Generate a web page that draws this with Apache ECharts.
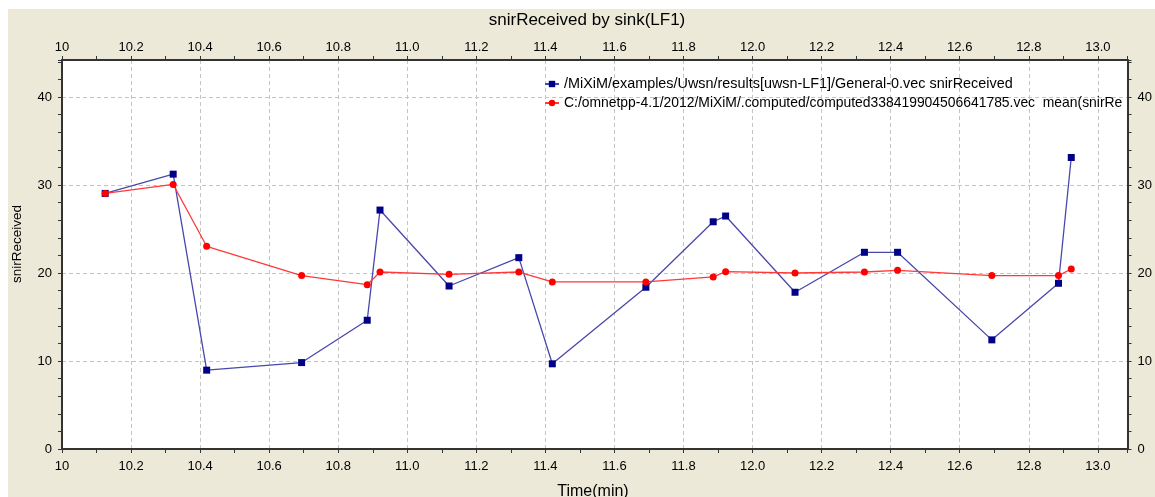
<!DOCTYPE html>
<html><head><meta charset="utf-8">
<script src="https://cdn.jsdelivr.net/npm/echarts@6/dist/echarts.min.js"></script>
<style>html,body{margin:0;padding:0;background:#fff;} #c{position:absolute;left:8px;top:9px;width:1147px;height:488px;}</style>
</head><body><div id="c"></div>
<script>
// Data
const timeMin = [10.125, 10.322, 10.419, 10.694, 10.884, 10.921, 11.121, 11.323, 11.42, 11.691, 11.886, 11.922, 12.123, 12.324, 12.42, 12.693, 12.886, 12.923];
const snirReceived = [29.04, 31.23, 8.96, 9.82, 14.63, 27.15, 18.52, 21.74, 9.68, 18.38, 25.82, 26.47, 17.81, 22.35, 22.35, 12.4, 18.83, 33.12];
const meanSnir = [29.04, 30.06, 23.03, 19.70, 18.67, 20.11, 19.85, 20.11, 18.98, 18.98, 19.55, 20.15, 20.0, 20.11, 20.3, 19.7, 19.7, 20.45];
const seriesNames = [
  '/MiXiM/examples/Uwsn/results[uwsn-LF1]/General-0.vec snirReceived',
  'C:/omnetpp-4.1/2012/MiXiM/.computed/computed338419904506641785.vec  mean(snirRe'
];
const chartTitle = 'snirReceived by sink(LF1)';
const xTitle = 'Time(min)';
const yTitle = 'snirReceived';
const xMin = 10, xMax = 13.086, xStep = 0.2, xMinorStep = 0.1;
const yMin = 0, yMax = 44.2, yStep = 10, yMinorStep = 2;

const FONT = 'Liberation Sans, Arial, sans-serif';
const AX = '#333333';

function pairs(xs, ys) { return xs.map((x, i) => [x, ys[i]]); }
function xLabel(v) {
  if (v > 13.05) return '';
  if (Math.abs(v - 10) < 1e-6) return '10';
  return v.toFixed(1);
}
function yLabel(v) { return (Math.abs(v % 10) < 1e-6) ? String(Math.round(v)) : ''; }

function labelAxis(pos, isX) {
  return {
    type: 'value', position: pos, gridIndex: 0,
    min: isX ? xMin : yMin, max: isX ? xMax : yMax, interval: isX ? xStep : yStep,
    axisLine: { show: true, onZero: false, lineStyle: { color: AX, width: 2 } },
    axisTick: { show: false },
    axisLabel: {
      show: true, color: '#000', fontFamily: FONT, fontSize: 13,
      margin: isX ? (pos === 'bottom' ? 11 : 6) : 10,
      formatter: isX ? xLabel : yLabel, showMaxLabel: true, showMinLabel: true
    },
    splitLine: { show: pos === 'bottom' || pos === 'left', lineStyle: { color: '#c4c4c4', type: [4, 3], width: 1 } }
  };
}
function tickAxis(pos, isX) {
  return {
    type: 'value', position: pos, gridIndex: 0,
    min: isX ? xMin : yMin, max: isX ? xMax : yMax, interval: isX ? xMinorStep : yMinorStep,
    axisLine: { show: false, onZero: false },
    axisTick: { show: true, inside: false, length: 4, lineStyle: { color: AX, width: 1 } },
    axisLabel: { show: false },
    splitLine: { show: false }
  };
}

const chart = echarts.init(document.getElementById('c'), null, { renderer: 'canvas' });
chart.setOption({
  animation: false,
  backgroundColor: '#ECE9D8',
  grid: { left: 54, top: 51, right: 27, bottom: 48, show: true, backgroundColor: '#ffffff', borderWidth: 0 },
  xAxis: [labelAxis('bottom', true), tickAxis('bottom', true), labelAxis('top', true), tickAxis('top', true)],
  yAxis: [labelAxis('left', false), tickAxis('left', false), labelAxis('right', false), tickAxis('right', false)],
  legend: {
    orient: 'vertical', left: 536, top: 68, itemWidth: 14, itemHeight: 8, itemGap: 5, padding: 0,
    align: 'left', selectedMode: false,
    textStyle: { fontFamily: FONT, fontSize: 14.4, color: '#000', width: 566, overflow: 'truncate', ellipsis: '' },
    data: [
      { name: seriesNames[0] },
      { name: seriesNames[1], textStyle: { fontFamily: FONT, fontSize: 13.9, color: '#000', width: 566, overflow: 'truncate', ellipsis: '' } }
    ]
  },
  graphic: [
    { type: 'text', style: { text: chartTitle, x: 579, y: 11, align: 'center', verticalAlign: 'middle', font: '17px ' + FONT, fill: '#000' } },
    { type: 'text', style: { text: xTitle, x: 585, y: 483, align: 'center', verticalAlign: 'middle', font: '16px ' + FONT, fill: '#000' } },
    { type: 'text', x: 9, y: 235, rotation: Math.PI / 2, style: { text: yTitle, x: 0, y: 0, align: 'center', verticalAlign: 'middle', font: '13.5px ' + FONT, fill: '#000' } }
  ],
  series: [
    {
      name: seriesNames[0], type: 'line', xAxisIndex: 0, yAxisIndex: 0,
      data: pairs(timeMin, snirReceived),
      symbol: 'rect', symbolSize: 7, showAllSymbol: true,
      itemStyle: { color: '#000088' },
      lineStyle: { color: '#4848ac', width: 1.3 },
      z: 2
    },
    {
      name: seriesNames[1], type: 'line', xAxisIndex: 0, yAxisIndex: 0,
      data: pairs(timeMin, meanSnir),
      symbol: 'circle', symbolSize: 7, showAllSymbol: true,
      itemStyle: { color: '#ff0000' },
      lineStyle: { color: '#ff3838', width: 1.3 },
      z: 3
    }
  ]
});
</script></body></html>
